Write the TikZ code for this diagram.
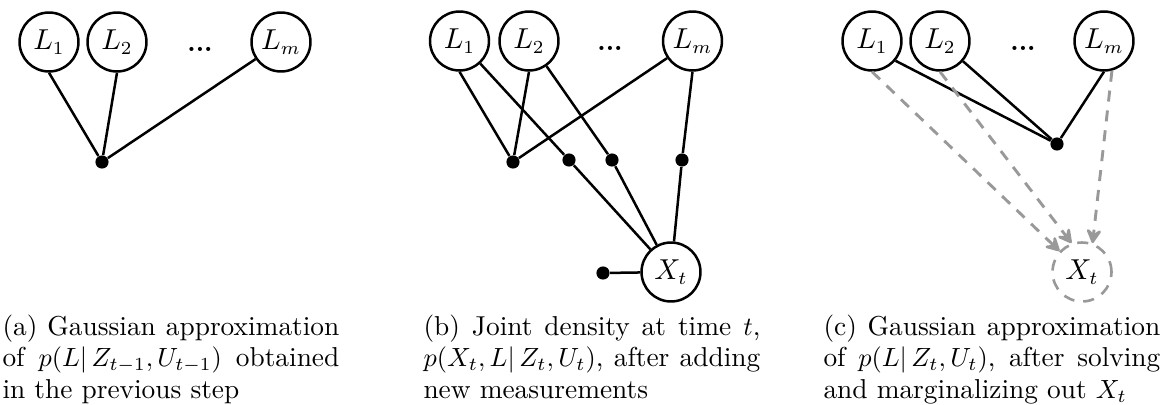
\documentclass[tikz,border=0pt]{standalone}
\usetikzlibrary{arrows.meta}
\begin{document}
\begin{tikzpicture}[x=0.38pt,y=-0.38pt,
  var/.style={circle,draw,line width=0.95pt,minimum size=22.4pt,inner sep=0pt,font=\fontsize{10.5}{12}\selectfont},
  fac/.style={circle,fill,inner sep=0pt,minimum size=5pt},
  edge/.style={line width=0.95pt},
  ghost/.style={circle,draw=black!40,line width=1pt,dash pattern=on 4.2pt off 3.4pt,minimum size=22.4pt,inner sep=0pt,font=\fontsize{10.5}{12}\selectfont},
  marg/.style={draw=black!40,line width=1.1pt,dash pattern=on 4.2pt off 3.4pt,-{Stealth[length=7pt,width=7.5pt,inset=3pt,round]}},
  captxt/.style={anchor=north west,inner sep=0pt,text width=128pt,align=justify,font=\fontsize{10.4}{12}\selectfont},
  dotsn/.style={anchor=base,inner sep=0pt,font=\bfseries}]
\useasboundingbox (0,0) rectangle (1160,404);

% ---------- (a)
\node[var] (aL1) at (49,42) {$L_1$};
\node[var] (aL2) at (117,42) {$L_2$};
\node[var] (aLm) at (281,42) {$L_m$};
\node[dotsn] (adots) at (200,51) {...};
\node[fac] (af) at (102,162) {};
\draw[edge] (aL1.south) -- (af);
\draw[edge] (aL2.south) -- (af);
\draw[edge] (aLm) -- (af);

% ---------- (b)
\node[var] (bL1) at (459.5,41) {$L_1$};
\node[var] (bL2) at (529,41) {$L_2$};
\node[var] (bLm) at (692.5,41) {$L_m$};
\node[dotsn] (bdots) at (610,50) {...};
\node[fac] (bfa) at (513,162) {};
\node[fac] (bf1) at (569,160) {};
\node[fac] (bf2) at (612,160) {};
\node[fac] (bf3) at (682,160) {};
\node[var] (bX) at (671,272) {$X_t$};
\node[fac] (bp) at (603,273) {};
\draw[edge] (bL1.south) -- (bfa);
\draw[edge] (bL2.south) -- (bfa);
\draw[edge] (bLm) -- (bfa);
\draw[edge] (bL1) -- (bf1) -- (bX);
\draw[edge] (bL2) -- (bf2) -- (bX);
\draw[edge] (bLm.south) -- (bf3) -- (bX);
\draw[edge] (bp) -- (bX);

% ---------- (c)
\node[var] (cL1) at (872,41) {$L_1$};
\node[var] (cL2) at (940,41) {$L_2$};
\node[var] (cLm) at (1104,41) {$L_m$};
\node[dotsn] (cdots) at (1023,50) {...};
\node[fac] (cf) at (1057,144) {};
\node[ghost] (cX) at (1082,272) {$X_t$};
\draw[edge] (cL1.-40) -- (cf);
\draw[edge] (cL2) -- (cf);
\draw[edge] (cLm.south) -- (cf);
\draw[marg] (cL1.south) -- (cX.137);
\draw[marg] (cL2.south) -- (cX.110);
\draw[marg] (cLm.-75) -- (cX.70);

% ---------- captions
\node[captxt] (capa) at (2,314) {(a) Gaussian approximation\linebreak of $p(L|\,Z_{t-1},U_{t-1})$ obtained\linebreak in the previous step};
\node[captxt] (capb) at (423,314) {(b) Joint density at time $t$,\linebreak $p(X_t,L|\,Z_t,U_t)$, after adding\linebreak new measurements};
\node[captxt] (capc) at (823,314) {(c) Gaussian approximation\linebreak of $p(L|\,Z_t,U_t)$, after solving\linebreak and marginalizing out $X_t$};
\end{tikzpicture}
\end{document}
